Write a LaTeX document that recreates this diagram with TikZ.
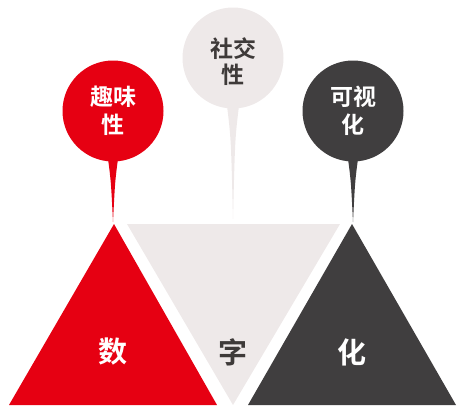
\documentclass[tikz,border=0pt]{standalone}
\usepackage{fontspec}
\newfontfamily\cjk{Noto Sans CJK SC Bold}
\definecolor{cred}{HTML}{E60012}
\definecolor{cgray}{HTML}{EEE9E9}
\definecolor{cdark}{HTML}{403E3F}
\definecolor{ctext}{HTML}{3E3A39}
\begin{document}
\begin{tikzpicture}[x=1pt,y=-1pt,
  pin/.style={circle, inner sep=0pt, minimum size=101pt},
  pintext/.style={inner sep=0pt, align=center, font=\cjk\fontsize{23}{28}\selectfont},
  big/.style={inner sep=0pt, font=\cjk\fontsize{29}{32}\selectfont}]
\useasboundingbox (0,0) rectangle (458,405);
% triangles
\fill[cred] (9,405) -- (114,224) -- (217,405) -- cycle;
\fill[cgray] (127,224) -- (340,224) -- (233,405) -- cycle;
\fill[cdark] (248,405) -- (352,224) -- (456,405) -- cycle;
% pins
\node[pin, fill=cred] (p1) at (113,111) {};
\node[pin, fill=cgray] (p2) at (233,58) {};
\node[pin, fill=cdark] (p3) at (353,111) {};
\node[pintext, text=white] (x1) at (113,111) {趣味\\性};
\node[pintext, text=ctext, font=\cjk\fontsize{23}{26}\selectfont] (x2) at (233,62) {社交\\性};
\node[pintext, text=white] (x3) at (353,111) {可视\\化};
\coordinate (t1) at (113,222);
\coordinate (t2) at (233,219);
\coordinate (t3) at (353,222);
\fill[cred] ([xshift=-5pt]p1.south) ++(0,-3) .. controls ([xshift=-2pt,yshift=-20pt]p1.south) .. (t1) .. controls ([xshift=2pt,yshift=-20pt]p1.south) .. ([xshift=5pt,yshift=3pt]p1.south) -- cycle;
\fill[cgray] ([xshift=-6pt]p2.south) ++(0,-3) .. controls ([xshift=-2pt,yshift=-30pt]p2.south) .. (t2) .. controls ([xshift=2pt,yshift=-30pt]p2.south) .. ([xshift=6pt,yshift=3pt]p2.south) -- cycle;
\fill[cdark] ([xshift=-5pt]p3.south) ++(0,-3) .. controls ([xshift=-2pt,yshift=-20pt]p3.south) .. (t3) .. controls ([xshift=2pt,yshift=-20pt]p3.south) .. ([xshift=5pt,yshift=3pt]p3.south) -- cycle;
% labels
\node[big, text=white] (l1) at (113,352) {数};
\node[big, text=ctext] (l2) at (233,352) {字};
\node[big, text=white] (l3) at (352,352) {化};
\end{tikzpicture}
\end{document}
